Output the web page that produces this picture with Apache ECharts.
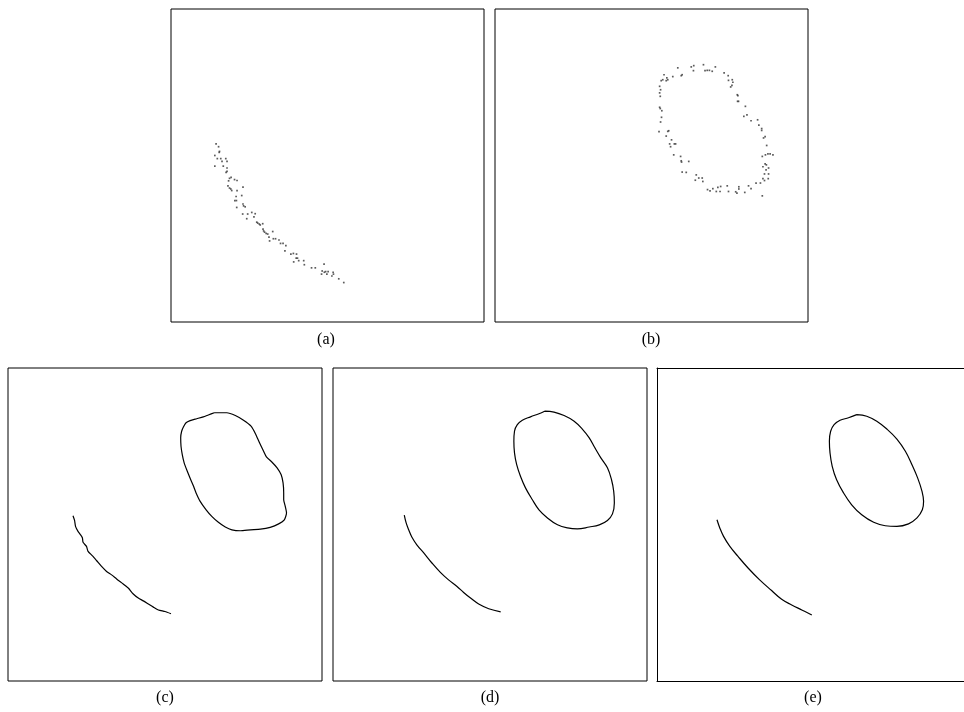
<!DOCTYPE html>
<html>
<head>
<meta charset="utf-8">
<script src="https://cdn.jsdelivr.net/npm/echarts@6/dist/echarts.min.js"></script>
<style>
  html, body { margin: 0; padding: 0; background: #fff; overflow: hidden; }
  #chart { width: 964px; height: 712px; }
</style>
</head>
<body>
<div id="chart"></div>
<script>
// Panel captions
const panelLabels = ['(a)', '(b)', '(c)', '(d)', '(e)'];

// (a) noisy samples along the open arc
const dotsA = [
  [14.4,56.9],[15.2,56.0],[15.5,54.5],[15.4,54.2],[14.0,53.2],[14.8,52.2],[15.9,52.2],[17.5,52.2],
  [16.3,51.3],[17.9,51.3],[14.0,49.8],[16.7,49.8],[17.9,49.2],[17.9,48.1],[17.6,47.8],[19.2,46.2],
  [18.7,45.9],[18.4,45.1],[20.3,45.5],[21.1,45.2],[18.2,43.5],[23.0,43.1],[18.7,42.8],[19.1,42.5],
  [19.4,42.0],[21.1,42.0],[22.6,40.4],[20.8,40.1],[20.9,38.8],[20.4,38.8],[23.0,37.7],[23.2,37.1],
  [23.7,36.8],[21.0,36.6],[25.8,35.0],[26.9,34.6],[22.9,34.5],[24.5,34.5],[26.5,33.6],[24.2,33.0],
  [27.4,31.9],[27.7,31.6],[28.2,31.3],[28.5,31.0],[29.3,31.4],[29.4,29.7],[29.6,29.1],[29.9,28.7],
  [30.4,28.3],[32.5,28.9],[30.9,28.1],[31.3,27.1],[32.7,26.6],[33.4,26.6],[31.5,25.9],[34.5,26.2],
  [35.0,25.1],[35.8,25.1],[36.7,24.4],[36.4,22.7],[38.3,21.7],[39.1,21.9],[40.1,21.7],[40.0,20.4],
  [40.4,20.4],[40.8,19.6],[39.2,19.2],[42.4,19.6],[42.6,18.3],[44.9,17.3],[46.1,17.3],[48.9,18.5],
  [48.3,16.3],[49.0,15.9],[49.4,16.1],[50.2,16.1],[49.8,15.3],[48.1,15.3],[51.8,15.9],[51.9,15.3],
  [51.4,14.7],[53.6,13.8],[55.2,12.6]
];

// (b) noisy samples around the closed contour
const dotsB = [
  [66.6,82.2],[63.5,81.9],[62.7,81.5],[58.4,81.2],[70.4,81.5],[63.4,80.3],[67.1,80.3],[67.8,80.4],
  [68.5,80.4],[69.4,80.1],[54.0,79.0],[59.8,79.0],[59.5,78.7],[56.8,78.4],[73.2,79.6],[74.5,78.7],
  [54.9,78.0],[55.2,77.4],[53.6,77.4],[53.1,77.1],[54.7,77.1],[74.6,77.2],[75.8,77.4],[76.0,76.6],
  [75.7,75.6],[52.6,75.3],[75.3,75.1],[52.9,74.2],[52.6,73.2],[77.4,72.6],[77.6,72.3],[52.8,72.1],
  [77.8,70.5],[77.5,70.5],[80.0,68.9],[52.6,68.6],[52.8,68.2],[53.3,67.5],[80.5,66.2],[79.5,65.7],
  [53.2,65.4],[52.9,63.9],[81.8,64.3],[83.9,64.6],[84.3,62.9],[85.2,61.8],[85.2,61.2],[52.4,60.8],
  [55.5,61.1],[55.2,60.9],[86.3,59.2],[54.7,59.4],[85.8,58.8],[56.4,58.2],[57.3,56.9],[57.7,56.9],
  [86.8,56.4],[55.8,56.9],[56.1,56.0],[86.4,53.4],[87.2,53.7],[87.9,53.7],[88.8,53.4],[85.4,52.9],
  [57.1,53.4],[59.3,52.9],[59.5,51.5],[61.9,51.3],[59.6,51.1],[86.3,50.5],[86.7,50.2],[85.6,49.6],
  [87.4,49.2],[86.6,48.6],[86.1,47.3],[87.4,47.3],[59.8,47.9],[61.1,47.8],[64.3,47.0],[66.2,46.0],
  [65.1,46.0],[64.0,45.3],[85.6,45.8],[86.1,45.2],[87.3,45.8],[84.8,44.4],[66.4,44.9],[83.4,44.4],
  [81.0,43.5],[77.9,43.2],[74.2,43.5],[72.1,43.3],[71.2,43.0],[69.6,42.6],[67.9,42.3],[68.7,41.9],
  [70.7,41.7],[71.9,41.7],[74.6,41.7],[76.9,41.6],[79.8,41.4],[81.8,42.6],[85.4,40.3],[77.9,42.5],
  [77.3,41.2]
];

// (c) first fit: rough open arc and rough loop
const arcC = [
  [20.7,52.8],[21.2,51.3],[21.5,49.4],[22.3,47.8],[23.1,46.7],[23.7,45.7],[23.9,44.3],[25.0,43.0],
  [25.5,41.4],[26.9,40.0],[28.2,38.5],[29.8,36.6],[31.4,35.0],[33.0,33.9],[34.6,32.6],[36.7,31.0],
  [38.3,29.7],[39.9,27.8],[41.5,26.5],[43.1,25.6],[44.7,24.6],[46.3,23.6],[47.9,22.7],[50.0,22.2],
  [51.9,21.5]
];
const loopC = [
  [65.7,85.7],[69.7,85.7],[72.4,84.8],[75.0,83.3],[77.4,81.4],[78.8,79.0],[80.1,76.1],[81.4,73.4],
  [82.3,71.6],[84.1,69.9],[85.7,68.1],[87.0,65.9],[87.6,63.3],[87.8,60.1],[87.8,57.9],[88.3,55.8],
  [88.7,53.7],[88.0,51.5],[86.2,50.2],[83.5,49.1],[80.4,48.5],[77.2,48.3],[74.0,48.0],[71.3,48.3],
  [69.2,49.2],[67.0,50.7],[64.9,52.6],[63.1,54.7],[61.2,57.4],[59.9,60.1],[59.1,62.2],[58.2,64.3],
  [57.1,67.0],[56.1,69.7],[55.5,72.3],[55.1,75.0],[55.0,77.7],[55.3,79.8],[55.9,81.2],[56.7,82.5],
  [58.0,83.2],[60.1,83.8],[62.2,84.4],[63.8,85.0],[65.7,85.7]
];

// (d) intermediate fit
const arcD = [
  [22.7,53.0],[23.3,50.5],[24.1,48.3],[25.1,46.0],[26.7,43.5],[28.9,40.9],[31.5,37.7],[34.2,34.7],
  [36.8,32.3],[39.5,30.2],[41.6,28.3],[43.8,26.5],[46.4,24.6],[49.6,23.1],[53.4,22.1]
];
const loopD = [
  [67.4,86.2],[70.4,85.9],[73.6,84.8],[76.8,83.0],[79.4,80.5],[81.6,77.7],[83.4,74.5],[85.3,71.3],
  [87.4,68.1],[88.7,64.3],[89.4,60.6],[89.6,56.9],[89.0,53.4],[87.4,51.3],[84.8,49.9],[81.6,49.2],
  [77.8,48.6],[74.7,48.9],[71.5,49.9],[68.3,52.1],[65.6,54.7],[63.5,57.9],[61.3,61.7],[59.7,65.4],
  [58.5,69.1],[57.8,72.9],[57.6,76.6],[57.8,79.8],[58.7,81.9],[60.3,83.3],[62.9,84.4],[65.6,85.4],
  [67.4,86.2]
];

// (e) final smooth fit
const arcE = [
  [19.1,51.5],[20.0,48.9],[21.2,46.2],[23.2,43.0],[25.8,39.8],[29.0,36.1],[32.7,32.3],[36.5,28.9],
  [39.7,26.1],[42.9,24.3],[46.1,22.7],[49.3,21.1]
];
const loopE = [
  [63.6,85.1],[66.8,84.6],[70.0,83.0],[73.2,80.5],[76.4,77.3],[79.1,73.4],[81.2,69.1],[83.0,64.9],
  [84.4,60.6],[84.9,57.4],[84.5,54.7],[82.8,52.1],[80.1,50.2],[76.4,49.4],[72.7,49.6],[69.0,50.7],
  [65.2,53.1],[62.0,56.3],[59.4,60.1],[57.2,64.3],[55.8,68.6],[55.1,72.9],[54.9,76.6],[55.3,79.8],
  [56.4,81.9],[58.3,83.3],[61.0,84.1],[63.6,85.1]
];

// Panel frames in page pixels. The last panel is 314px wide but the page cuts it at 964px,
// so only the visible 307px are laid out and its x range is trimmed to match.
const frames = [
  { left: 171, top: 9,   width: 313, height: 313, xMax: 100, open: false },
  { left: 495, top: 9,   width: 313, height: 313, xMax: 100, open: false },
  { left: 8,   top: 368, width: 314, height: 313, xMax: 100, open: false },
  { left: 333, top: 368, width: 314, height: 313, xMax: 100, open: false },
  { left: 657, top: 368, width: 307, height: 313, xMax: 100 * 307 / 314, open: true }
];
const captionPos = [[326, 340], [651, 340], [165, 698], [490, 698], [813, 698]];

const grids = [], xAxes = [], yAxes = [], series = [], texts = [];
const frameLine = { show: true, onZero: false, lineStyle: { color: '#000', width: 1 } };

frames.forEach((f, i) => {
  grids.push({
    show: !f.open, borderColor: '#000', borderWidth: 1, backgroundColor: '#fff',
    left: f.left, top: f.top, width: f.width, height: f.height
  });
  const axisBase = {
    gridIndex: i, type: 'value', min: 0,
    axisLine: f.open ? frameLine : { show: false }, axisTick: { show: false },
    axisLabel: { show: false }, splitLine: { show: false }
  };
  xAxes.push(Object.assign({ max: f.xMax, position: 'bottom' }, axisBase));
  yAxes.push(Object.assign({ max: 100, position: 'left' }, axisBase));
  texts.push({
    type: 'text', x: captionPos[i][0], y: captionPos[i][1],
    style: {
      text: panelLabels[i], fill: '#000', font: '16px "Liberation Serif", "DejaVu Serif", serif',
      textAlign: 'center', textVerticalAlign: 'middle'
    }
  });
});
// top edge of the open panel
xAxes.push({
  gridIndex: 4, type: 'value', min: 0, max: frames[4].xMax, position: 'top',
  axisLine: frameLine, axisTick: { show: false }, axisLabel: { show: false }, splitLine: { show: false }
});

function dots(data, idx) {
  return {
    type: 'scatter', xAxisIndex: idx, yAxisIndex: idx, data: data,
    symbol: 'rect', symbolSize: 1.7, silent: true,
    itemStyle: { color: '#333' }
  };
}
function curve(data, idx, smooth) {
  return {
    type: 'line', xAxisIndex: idx, yAxisIndex: idx, data: data,
    showSymbol: false, smooth: smooth, silent: true,
    lineStyle: { color: '#000', width: 1.2 }
  };
}

series.push(dots(dotsA, 0));
series.push(dots(dotsB, 1));
series.push(curve(arcC, 2, 0.2), curve(loopC, 2, 0.2));
series.push(curve(arcD, 3, 0.4), curve(loopD, 3, 0.4));
series.push(curve(arcE, 4, 0.4), curve(loopE, 4, 0.4));

const chart = echarts.init(document.getElementById('chart'), null, { renderer: 'canvas' });
chart.setOption({
  animation: false,
  backgroundColor: '#fff',
  grid: grids,
  xAxis: xAxes,
  yAxis: yAxes,
  series: series,
  graphic: texts
});
</script>
</body>
</html>
